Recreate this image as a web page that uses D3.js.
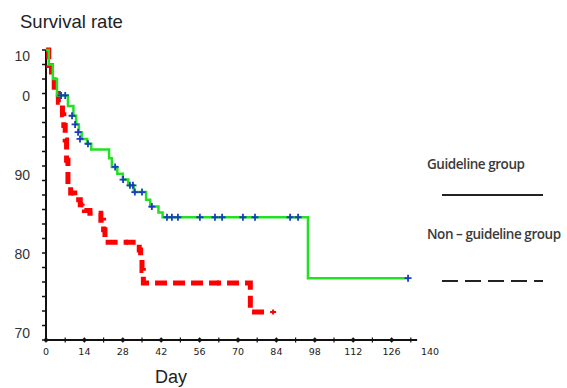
<!DOCTYPE html>
<html><head><meta charset="utf-8">
<script src="https://cdn.jsdelivr.net/npm/d3@7/dist/d3.min.js"></script>
<style>body{margin:0;background:#fff}</style>
</head><body><svg id="c" width="567" height="388"></svg>
<script>
// ---- data ----
const xTickDays = [0,14,28,42,56,70,84,98,112,126,140];
const yTickValues = [90,80,70];
const yTickLabels = ["90","80","70"];
const yTopLabelParts = ["10","0"]; // the "100" label, broken over two lines as in the source

const guideDays = [0,1,2.5,4,8,10,11,12,13,15,16.5,23,24,26,28,30,32,36.5,38,41,42.5,95.5];
const guideSurv = [100,98.5,97,95.3,94.2,93.2,92.3,91.5,90.8,90.3,89.7,88.8,87.9,87.2,86.6,86.0,85.3,84.5,83.8,83.2,82.7,76.4];
const guideEndDay = 132;
const guideCensorDays = [5.5,7,9.5,10.6,11.7,12.4,15.3,25.2,28.1,30.6,31.7,32.4,35,38.6,44.1,45.9,48.1,56.1,61.6,64.2,71.8,76.2,89,91.9,132];
const guideCensorSurv = [95.3,95.3,93.2,92.3,91.5,90.8,90.3,87.9,86.6,86.0,86.0,85.3,85.3,83.8,82.7,82.7,82.7,82.7,82.7,82.7,82.7,82.7,82.7,82.7,76.4];

const nonDays = [0,1,2,3,4.5,6,6.5,7,7.5,8,9,10.5,12.5,14,16,20,21,21.5,34,34.5,35,35.5,74.5];
const nonSurv = [100,98.4,96.9,95.5,94.6,93.3,92.2,90.7,88.6,86.0,85.2,84.5,84.0,83.4,83.1,82.4,81.4,80.1,79.3,78.6,77.2,75.9,72.9];
const nonEndDay = 80;
const nonCensorDays = [9.5,13,29.5,62.7,82.8];
const nonCensorSurv = [85.2,84.0,80.1,75.9,72.9];

const legendLabels = ["Guideline group","Non \u2013 guideline group"];

// ---- chart ----
const svg = d3.select("#c");
const x = d3.scaleLinear().domain([0,140]).range([46,430]);
const y = d3.scaleLinear().domain([70,100]).range([340,50]);
const yLab = d3.scaleLinear().domain([70,100]).range([333,96]);

// title
svg.append("text").attr("x",20).attr("y",28).attr("font-family","Liberation Sans, Arial, sans-serif")
  .attr("font-size",18.5).attr("fill","#222").text("Survival rate");
svg.append("text").attr("x",155).attr("y",383).attr("font-family","Liberation Sans, Arial, sans-serif")
  .attr("font-size",18).attr("fill","#222").text("Day");

// y axis
const g = svg.append("g");
g.append("line").attr("x1",x(0)).attr("x2",x(0)).attr("y1",y(100)).attr("y2",y(70))
  .attr("stroke","#111").attr("stroke-width",2);
g.selectAll(".yt").data(d3.range(0,21)).join("line")
  .attr("x1",x(0)-4).attr("x2",x(0)).attr("y1",i=>y(70+1.5*i)).attr("y2",i=>y(70+1.5*i))
  .attr("stroke","#111").attr("stroke-width",1.5);
g.selectAll(".yl").data(yTickValues).join("text")
  .attr("x",30).attr("y",d=>yLab(d)).attr("dy","0.36em").attr("text-anchor","end")
  .attr("font-family","Liberation Sans, Arial, sans-serif").attr("font-size",14).attr("fill","#333")
  .text((d,i)=>yTickLabels[i]);
g.selectAll(".ytop").data(yTopLabelParts).join("text")
  .attr("x",30).attr("y",(d,i)=>yLab(100)-40+i*40).attr("dy","0.36em").attr("text-anchor","end")
  .attr("font-family","Liberation Sans, Arial, sans-serif").attr("font-size",14).attr("fill","#333")
  .text(d=>d);

// x axis
g.append("line").attr("x1",x(0)).attr("x2",x(135.3)).attr("y1",y(70)).attr("y2",y(70))
  .attr("stroke","#111").attr("stroke-width",2);
g.selectAll(".xt").data(d3.range(0,134,7)).join("line")
  .attr("x1",d=>x(d)).attr("x2",d=>x(d)).attr("y1",y(70)-2.5).attr("y2",y(70)+2.5)
  .attr("stroke","#111").attr("stroke-width",1.2);
g.selectAll(".xd").data(xTickDays.filter(d=>d<135)).join("circle")
  .attr("cx",d=>x(d)).attr("cy",y(70)).attr("r",2).attr("fill","#111");
g.selectAll(".xl").data(xTickDays).join("text")
  .attr("x",d=>x(d)).attr("y",355).attr("text-anchor","middle")
  .attr("font-family","DejaVu Sans, sans-serif").attr("font-size",9.5).attr("fill","#222")
  .text(d=>d);

// curves
const line = d3.line().x(d=>x(d[0])).y(d=>y(d[1])).curve(d3.curveStepAfter);
const gPts = guideDays.map((d,i)=>[d,guideSurv[i]]); gPts.push([guideEndDay,guideSurv[guideSurv.length-1]]);
const nPts = nonDays.map((d,i)=>[d,nonSurv[i]]); nPts.push([nonEndDay,nonSurv[nonSurv.length-1]]);

svg.append("path").attr("d",line(nPts)).attr("fill","none").attr("stroke","#f00")
  .attr("stroke-width",5).attr("stroke-dasharray","12,6");
svg.selectAll(".nc").data(nonCensorDays).join("path")
  .attr("transform",(d,i)=>`translate(${x(d)},${y(nonCensorSurv[i])})`)
  .attr("d","M-3,0H3M0,-2.5V2.5").attr("stroke","#f00").attr("stroke-width",2);

svg.append("path").attr("d",line(gPts)).attr("fill","none").attr("stroke","#22e022")
  .attr("stroke-width",2.5);
svg.selectAll(".gc").data(guideCensorDays).join("path")
  .attr("transform",(d,i)=>`translate(${x(d)},${y(guideCensorSurv[i])})`)
  .attr("d","M-3.5,0H3.5M0,-3.5V3.5").attr("stroke","#1a3cc0").attr("stroke-width",1.8);

// legend
const lg = svg.append("g").attr("font-family","Open Sans, sans-serif").attr("font-size",13.5)
  .attr("font-weight",600).attr("fill","#3a3a3a");
lg.append("text").attr("x",427).attr("y",169).attr("letter-spacing",-0.45).text(legendLabels[0]);
lg.append("line").attr("x1",442).attr("x2",543).attr("y1",195).attr("y2",195).attr("stroke","#222").attr("stroke-width",2.2);
lg.append("text").attr("x",427).attr("y",239).attr("letter-spacing",-0.45).text(legendLabels[1]);
lg.append("line").attr("x1",442).attr("x2",543).attr("y1",281).attr("y2",281).attr("stroke","#222").attr("stroke-width",2.2)
  .attr("stroke-dasharray","16,7");
</script></body></html>
